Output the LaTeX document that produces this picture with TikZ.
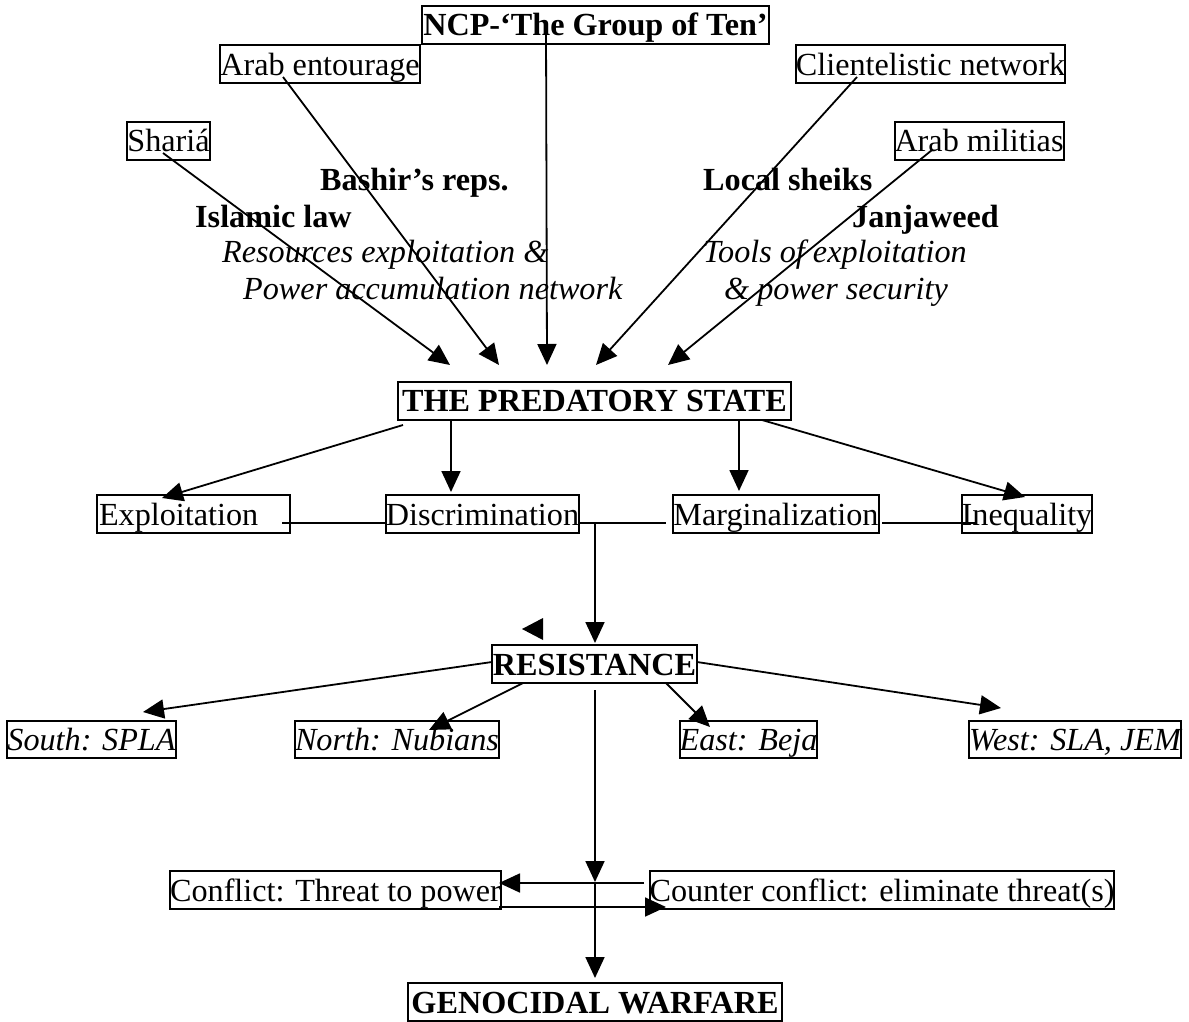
\documentclass[tikz,border=0pt]{standalone}
\usepackage{fontspec}
\setmainfont{Liberation Serif}
\usetikzlibrary{arrows.meta}
\newcommand\dfs{\fontsize{32.2}{37}\selectfont}
\begin{document}
\begin{tikzpicture}[x=1pt,y=-1pt,
  box/.style={draw, line width=2pt, inner sep=0pt, text height=27pt, text depth=5pt, minimum height=38pt, font=\dfs},
  bbox/.style={box, font=\dfs\bfseries},
  ibox/.style={box, font=\dfs\itshape},
  lbl/.style={inner sep=0pt, anchor=base west, font=\dfs\bfseries},
  ilbl/.style={inner sep=0pt, anchor=base west, font=\dfs\itshape},
  conn/.style={line width=1.8pt, -{Triangle[length=21pt,width=19pt]}},
  link/.style={line width=1.8pt}]
\useasboundingbox (0,0) rectangle (1189,1022);

% top level boxes
\node[bbox, minimum width=347pt] (ncp) at (595.5,25) {NCP-‘The Group of Ten’};
\node[box, minimum width=200pt] (arab) at (320,64.5) {Arab entourage};
\node[box, minimum width=83pt] (sharia) at (168.5,141) {Shariá};
\node[box, minimum width=269pt] (client) at (930.5,64.5) {Clientelistic network};
\node[box, minimum width=168pt] (militia) at (979,141) {Arab militias};

% labels
\node[lbl] (bashir) at (320,190) {Bashir’s reps.};
\node[lbl] (islam) at (195,227) {Islamic law};
\node[ilbl] (res1) at (222,262) {Resources exploitation \&};
\node[ilbl] (res2) at (243,299) {Power accumulation network};
\node[lbl] (sheiks) at (703,190) {Local sheiks};
\node[lbl] (janja) at (852,227) {Janjaweed};
\node[ilbl] (tool1) at (703,262) {Tools of exploitation};
\node[ilbl] (tool2) at (724,299) {\& power security};

% predatory state
\node[bbox, minimum width=393pt] (pred) at (594.5,400.5) {THE PREDATORY STATE};

% level 3
\node[box, minimum width=193pt] (expl) at (193.5,514) {\makebox[189pt][l]{Exploitation}};
\node[box, minimum width=193pt] (disc) at (482.5,514) {Discrimination};
\node[box, minimum width=206pt] (marg) at (776,514) {Marginalization};
\node[box, minimum width=130pt] (ineq) at (1027,514) {Inequality};

% resistance
\node[bbox, minimum width=205pt] (resist) at (594.5,664) {RESISTANCE};

% level 5
\node[ibox, minimum width=167pt, minimum height=37pt] (south) at (91.5,739.5) {South: SPLA};
\node[ibox, minimum width=200pt, minimum height=37pt] (north) at (397,739.5) {North: Nubians};
\node[ibox, minimum width=135pt, minimum height=37pt] (east) at (748.5,739.5) {East: Beja};
\node[ibox, minimum width=212pt, minimum height=37pt] (west) at (1075,739.5) {West: SLA, JEM};

% conflict row
\node[box, minimum width=327pt] (conflict) at (335.5,890) {Conflict: Threat to power};
\node[box, minimum width=462pt] (counter) at (882,890) {Counter conflict: eliminate threat(s)};

% genocidal warfare
\node[bbox, minimum width=374pt] (geno) at (595,1002) {GENOCIDAL WARFARE};

% coordinates for connector ends
\coordinate (shS) at (163,153);   \coordinate (shT) at (450,365);
\coordinate (arS) at (283,77);    \coordinate (arT) at (499,365);
\coordinate (ncS) at (546,28);    \coordinate (ncT) at (547,365);
\coordinate (clS) at (857,77);    \coordinate (clT) at (596,365);
\coordinate (miS) at (932,150);   \coordinate (miT) at (668,365);

\coordinate (p1) at (403,425);    \coordinate (exT) at (162,498);
\coordinate (p2) at (451,419);    \coordinate (diT) at (451,492);
\coordinate (p3) at (739,419);    \coordinate (maT) at (739,491);
\coordinate (p4) at (762,420);    \coordinate (inT) at (1025,497);

\coordinate (h1a) at (282,523);   \coordinate (h1b) at (386,523);
\coordinate (h2a) at (579,523);   \coordinate (h2b) at (666,523);
\coordinate (h3a) at (882,523);   \coordinate (h3b) at (977,523);
\coordinate (jn) at (595,523);    \coordinate (reT) at (595,643);

\coordinate (r1) at (492,662);    \coordinate (soT) at (143,712);
\coordinate (r2) at (523,683);    \coordinate (noT) at (429,730);
\coordinate (r3) at (666,683);    \coordinate (eaT) at (710,727);
\coordinate (r4) at (697,662);    \coordinate (weT) at (1001,708);
\coordinate (r5) at (595,690);    \coordinate (mid) at (595,882);
\coordinate (geT) at (595,978);

\coordinate (coS) at (644,883);   \coordinate (cfT) at (499,883);
\coordinate (cfS) at (499,907);   \coordinate (coT) at (666,907);

% top arrows
\draw[conn] (shS) -- (shT);
\draw[conn] (arS) -- (arT);
\draw[conn] (ncS) -- (ncT);
\draw[conn] (clS) -- (clT);
\draw[conn] (miS) -- (miT);

% from predatory state
\draw[conn] (p1) -- (exT);
\draw[conn] (p2) -- (diT);
\draw[conn] (p3) -- (maT);
\draw[conn] (p4) -- (inT);

% joining lines
\draw[link] (h1a) -- (h1b);
\draw[link] (h2a) -- (h2b);
\draw[link] (h3a) -- (h3b);
\draw[conn] (jn) -- (reT);
\fill (522,629) -- (543,618) -- (543,640) -- cycle;

% from resistance
\draw[conn] (r1) -- (soT);
\draw[conn] (r2) -- (noT);
\draw[conn] (r3) -- (eaT);
\draw[conn] (r4) -- (weT);
\draw[conn] (r5) -- (mid);
\draw[conn] (mid) -- (geT);

% conflict arrows
\draw[conn] (coS) -- (cfT);
\draw[conn] (cfS) -- (coT);
\end{tikzpicture}
\end{document}
